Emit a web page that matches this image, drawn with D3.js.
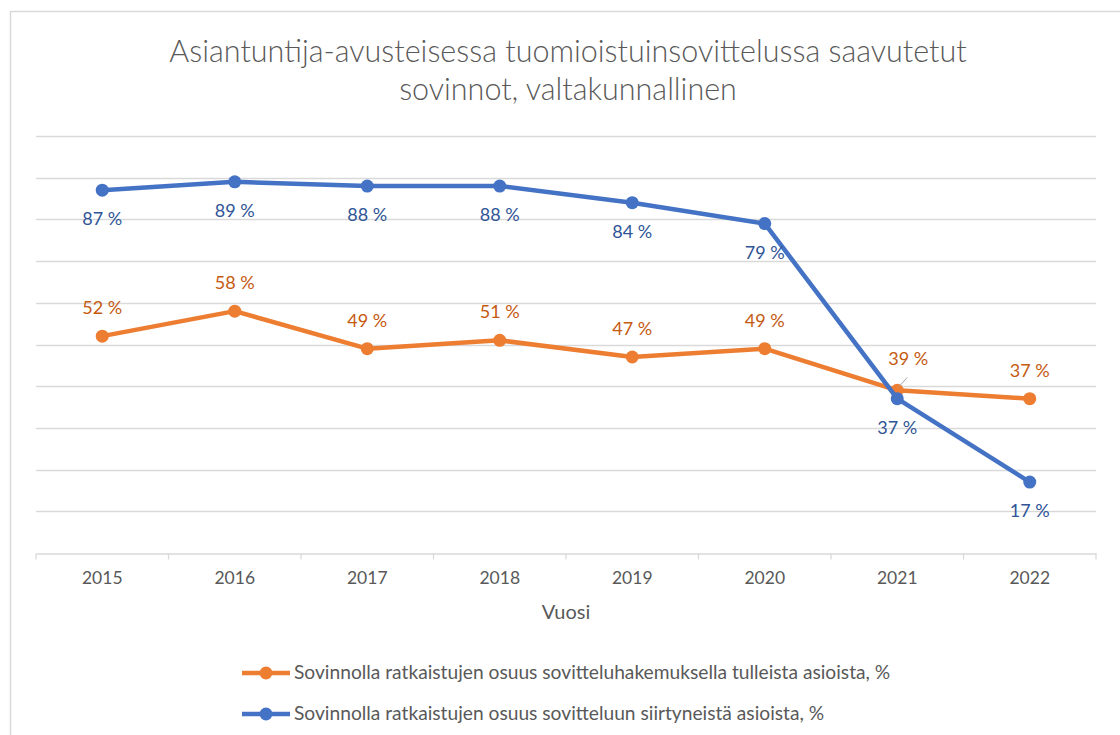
<!DOCTYPE html>
<html>
<head>
<meta charset="utf-8">
<script src="https://cdn.jsdelivr.net/npm/d3@7"></script>
<style>
  body { margin: 0; background: #fff; }
  svg { display: block; font-family: Lato, "Open Sans", sans-serif; }
</style>
</head>
<body>
<div id="chart"></div>
<script>
// Data
const years = ["2015", "2016", "2017", "2018", "2019", "2020", "2021", "2022"];
const hakemus = [52, 58, 49, 51, 47, 49, 39, 37];   // orange
const siirtyneet = [87, 89, 88, 88, 84, 79, 37, 17]; // blue
const yTicks = [0, 10, 20, 30, 40, 50, 60, 70, 80, 90, 100];
const titleLines = ["Asiantuntija-avusteisessa tuomioistuinsovittelussa saavutetut",
                    "sovinnot, valtakunnallinen"];
const xTitle = "Vuosi";
const seriesNames = ["Sovinnolla ratkaistujen osuus sovitteluhakemuksella tulleista asioista, %",
                     "Sovinnolla ratkaistujen osuus sovitteluun siirtyneistä asioista, %"];

const W = 1120, H = 735;
const svg = d3.select("#chart").append("svg")
  .attr("width", W).attr("height", H);

// outer chart frame (only top and left edges show)
svg.append("rect")
  .attr("x", 10.5).attr("y", 11.5)
  .attr("width", 1200).attr("height", 900)
  .attr("fill", "none").attr("stroke", "#d9d9d9").attr("stroke-width", 1.5);

// title
svg.append("g").selectAll("text")
  .data(titleLines)
  .join("text")
  .attr("x", 568)
  .attr("y", (d, i) => 62 + i * 38)
  .attr("text-anchor", "middle")
  .attr("font-size", 30.5)
  .attr("font-weight", 300)
  .attr("fill", "#595959")
  .text(d => d);

// scales
const x = d3.scaleBand().domain(years).range([36, 1096]);
const xc = d => x(d) + x.bandwidth() / 2;
const y = d3.scaleLinear().domain([0, 100]).range([553, 136]);

// gridlines
svg.append("g").selectAll("line")
  .data(yTicks.slice(1))
  .join("line")
  .attr("x1", 36).attr("x2", 1096)
  .attr("y1", d => Math.round(y(d)) + 0.5).attr("y2", d => Math.round(y(d)) + 0.5)
  .attr("stroke", "#d9d9d9").attr("stroke-width", 1.3);

// x axis with labels, then band-edge ticks
const xAxis = svg.append("g")
  .attr("transform", "translate(0," + (Math.round(y(0)) + 0.5) + ")")
  .call(d3.axisBottom(x).tickSize(0).tickPadding(18));
xAxis.select(".domain").attr("stroke", "#d9d9d9").attr("stroke-width", 1.3);
xAxis.selectAll("text")
  .attr("font-family", "Lato, 'Open Sans', sans-serif")
  .attr("font-size", 17.5).attr("fill", "#595959");

const edges = years.map(d => x(d)).concat([x.range()[1]]);
xAxis.selectAll(".edge")
  .data(edges)
  .join("line")
  .attr("class", "edge")
  .attr("x1", d => d).attr("x2", d => d)
  .attr("y1", 0).attr("y2", 6)
  .attr("stroke", "#d9d9d9").attr("stroke-width", 1.3);

// x axis title
svg.append("text")
  .attr("x", 566).attr("y", 619)
  .attr("text-anchor", "middle")
  .attr("font-size", 20).attr("fill", "#595959")
  .text(xTitle);

// series
const series = [
  { name: seriesNames[0], values: hakemus, color: "#ED7D31", labelColor: "#C55A11", above: true },
  { name: seriesNames[1], values: siirtyneet, color: "#4472C4", labelColor: "#2F5597", above: false }
];

const line = d3.line()
  .x((d, i) => xc(years[i]))
  .y(d => y(d));

series.forEach(s => {
  const g = svg.append("g");
  g.append("path")
    .datum(s.values)
    .attr("d", line)
    .attr("fill", "none")
    .attr("stroke", s.color)
    .attr("stroke-width", 4.5)
    .attr("stroke-linejoin", "round");
  g.selectAll("circle")
    .data(s.values)
    .join("circle")
    .attr("cx", (d, i) => xc(years[i]))
    .attr("cy", d => y(d))
    .attr("r", 6.5)
    .attr("fill", s.color);
});

// data labels (on top of both lines)
series.forEach(s => {
  s.values.forEach((v, i) => {
    let lx = xc(years[i]);
    let ly = s.above ? y(v) - 22 : y(v) + 35;
    // 2021 orange label is moved aside with a leader line
    if (s.above && years[i] === "2021") {
      lx += 11;
      ly = y(v) - 25;
      svg.append("line")
        .attr("x1", xc(years[i]) + 2).attr("y1", y(v) - 4)
        .attr("x2", xc(years[i]) + 10).attr("y2", y(v) - 13)
        .attr("stroke", "#a6a6a6").attr("stroke-width", 1);
    }
    svg.append("text")
      .attr("x", lx).attr("y", ly)
      .attr("text-anchor", "middle")
      .attr("font-size", 18)
      .attr("fill", s.labelColor)
      .text(v + " %");
  });
});

// legend
const legend = svg.append("g");
series.forEach((s, i) => {
  const ly = 673 + i * 41;
  legend.append("line")
    .attr("x1", 242).attr("x2", 290)
    .attr("y1", ly).attr("y2", ly)
    .attr("stroke", s.color).attr("stroke-width", 4.5);
  legend.append("circle")
    .attr("cx", 266).attr("cy", ly).attr("r", 6.5)
    .attr("fill", s.color);
  legend.append("text")
    .attr("x", 294).attr("y", ly + 6)
    .attr("font-size", 19.2).attr("fill", "#595959")
    .text(s.name);
});
</script>
</body>
</html>
